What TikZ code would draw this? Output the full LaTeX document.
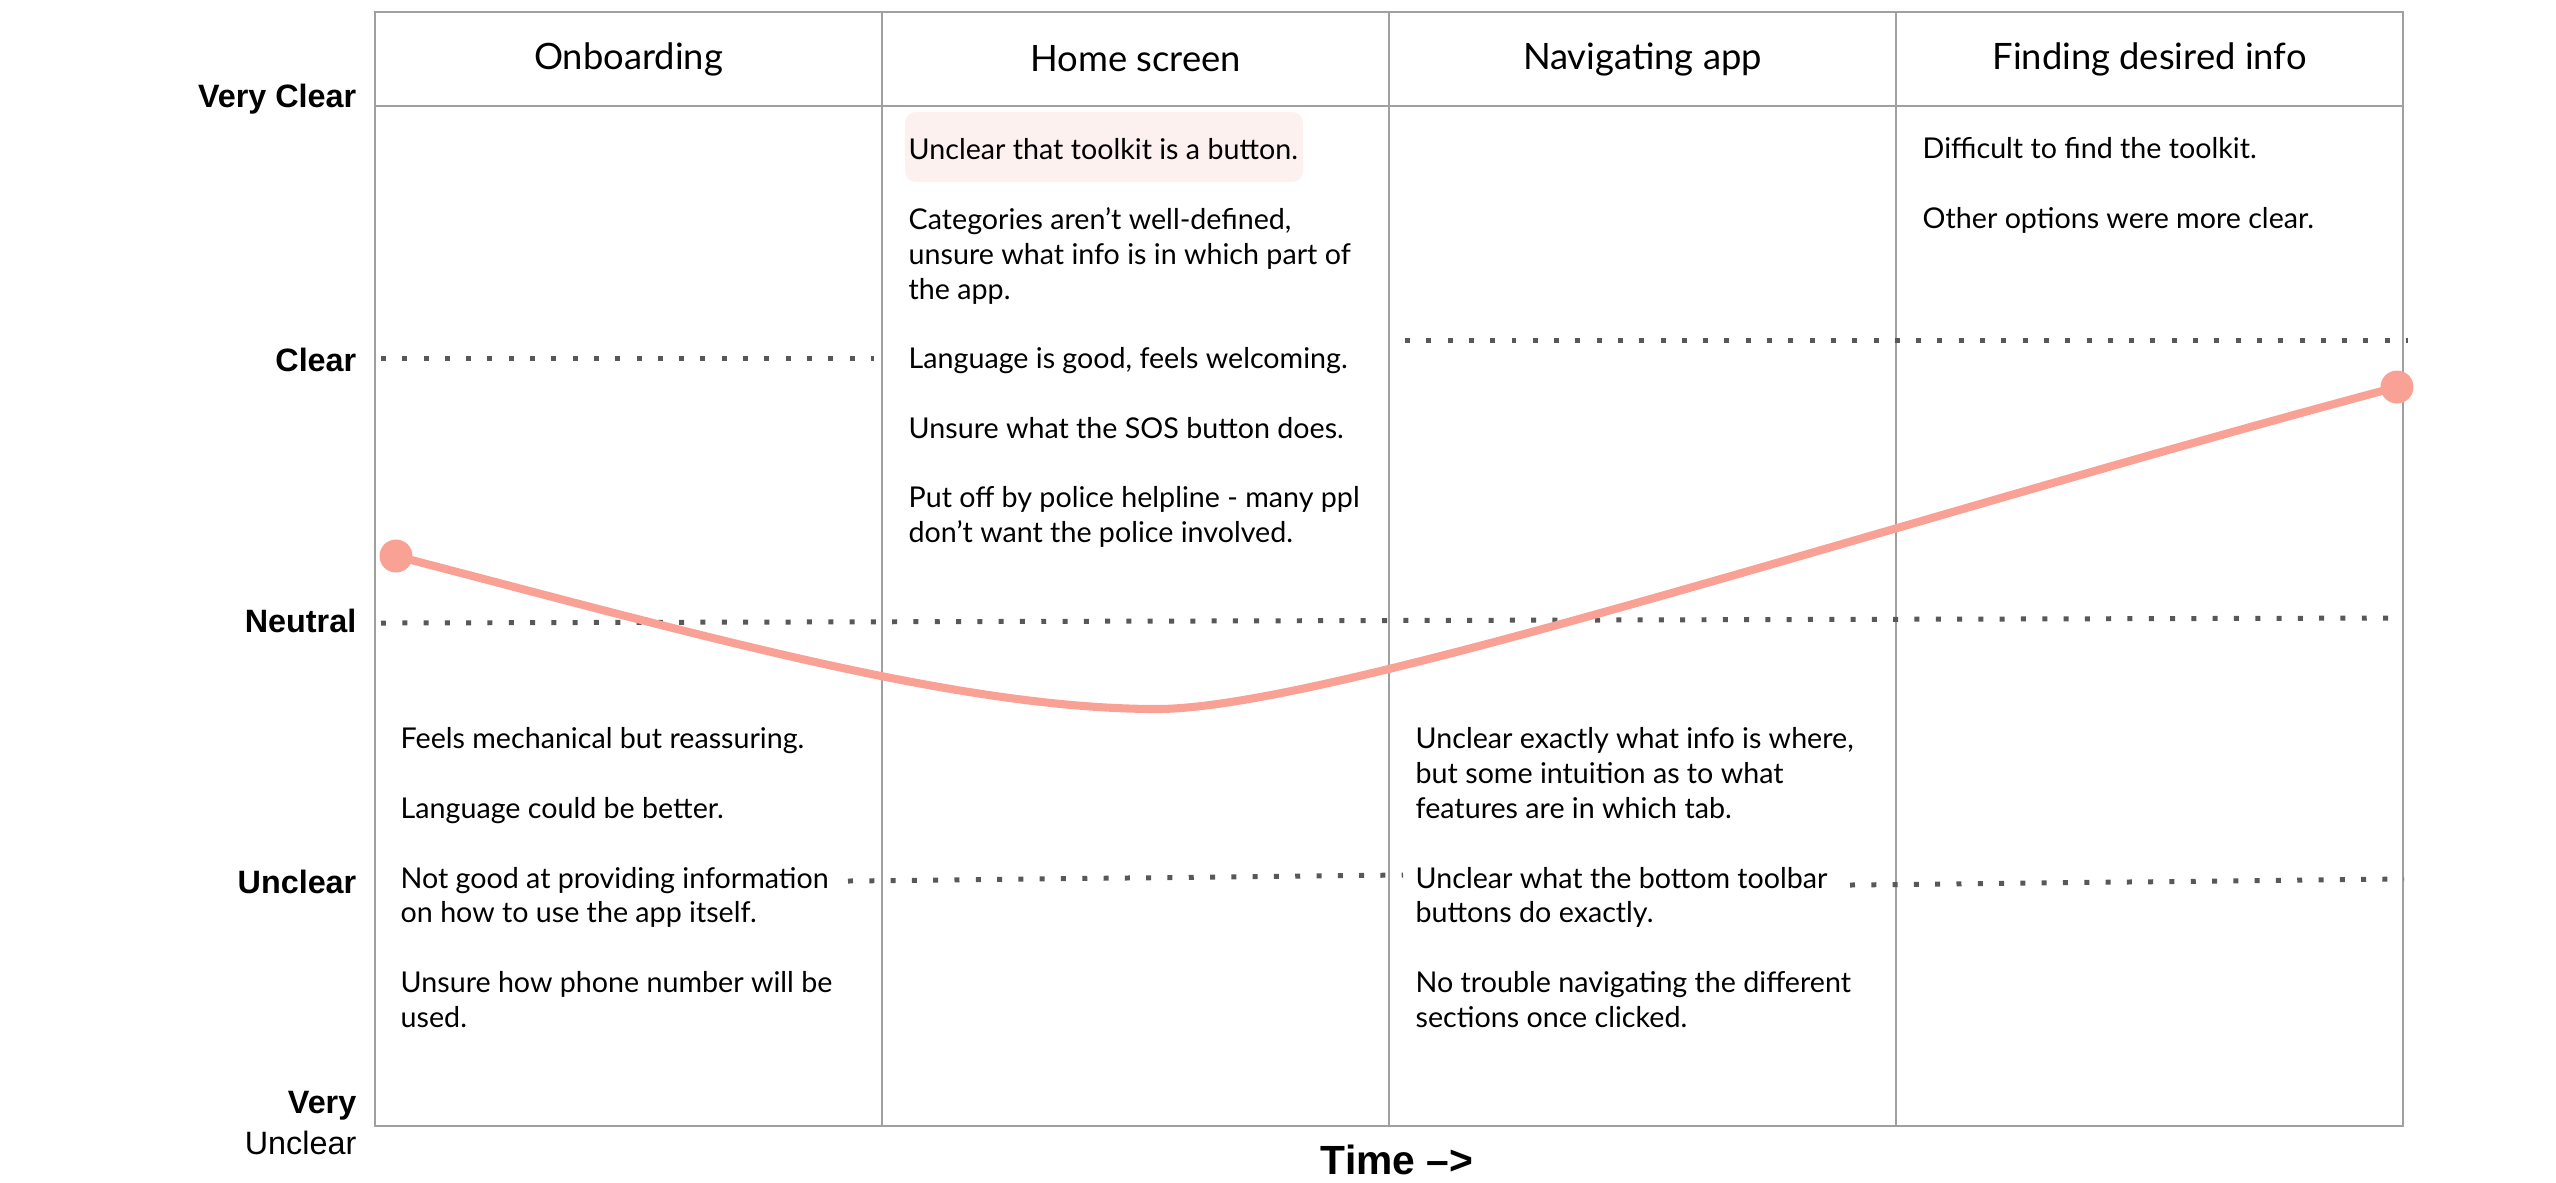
\documentclass[tikz,border=0pt]{standalone}
\usepackage{fontspec}
\setmainfont{Lato}
\newfontfamily\axisfont{Liberation Sans}
\definecolor{framegray}{RGB}{160,160,160}
\definecolor{dotgray}{RGB}{88,88,88}
\definecolor{curvepink}{RGB}{249,161,148}
\definecolor{hilite}{RGB}{253,241,239}
\newcommand{\psep}{\\[9.9pt]}
\begin{document}
\begin{tikzpicture}[
    frame/.style={draw=framegray, line width=0.8pt},
    level/.style={dotgray, line width=1.42pt, dash pattern=on 1.42pt off 4.64pt},
    note/.style={anchor=north west, align=left, inner sep=0pt, font=\fontsize{8.15}{9.9}\selectfont},
    phase/.style={font=\fontsize{10.35}{12}\selectfont},
    axis/.style={anchor=east, inner sep=0pt, font=\axisfont\fontsize{9.2}{10}\selectfont},
    marker/.style={circle, fill=curvepink, inner sep=0pt, minimum size=0.33cm}
]
    \useasboundingbox (0,0) rectangle (25.56,-11.82);
    \draw[frame] (3.75,-0.12) rectangle (24.03,-11.26);
    \draw[frame] (3.75,-1.06) -- (24.03,-1.06);
    \foreach \x in {8.82,13.89,18.96}
        \draw[frame] (\x,-0.12) -- (\x,-11.26);
    \node[phase] (onboard) at (6.285,-0.59) {Onboarding};
    \node[phase] (home) at (11.355,-0.59) {Home screen};
    \node[phase] (navig) at (16.425,-0.59) {Navigating app};
    \node[phase] (finding) at (21.495,-0.59) {Finding desired info};
    \node[axis] (vclear) at (3.57,-0.99) {\bfseries Very Clear};
    \node[axis] (clear) at (3.57,-3.60) {\bfseries Clear};
    \node[axis] (neutral) at (3.57,-6.21) {\bfseries Neutral};
    \node[axis] (unclear) at (3.57,-8.82) {\bfseries Unclear};
    \node[axis] (very) at (3.57,-11.06) {\bfseries Very};
    \node[axis] (vunclear) at (3.57,-11.43) {Unclear};
    \node[axis, anchor=center, font=\axisfont\bfseries\fontsize{11.6}{13}\selectfont] (time) at (13.97,-11.60) {Time –>};
    \draw[level] (3.81,-3.58) -- (8.74,-3.58);
    \draw[level] (14.05,-3.40) -- (24.08,-3.40);
    \draw[level] (3.81,-6.23) -- (24.03,-6.18);
    \draw[level] (8.48,-8.81) -- (14.03,-8.75);
    \draw[level] (18.50,-8.85) -- (24.04,-8.79);
    \fill[hilite, rounded corners=3pt] (9.05,-1.12) rectangle (13.03,-1.82);
    \node[note] (onbnotes) at (4.00,-7.27) {Feels mechanical but reassuring.\psep
        Language could be better.\psep
        Not good at providing information\\on how to use the app itself.\psep
        Unsure how phone number will be\\used.};
    \node[note] (homenotes) at (9.08,-1.38) {Unclear that toolkit is a button.\psep
        Categories aren’t well-defined,\\unsure what info is in which part of\\the app.\psep
        Language is good, feels welcoming.\psep
        Unsure what the SOS button does.\psep
        Put off by police helpline - many ppl\\don’t want the police involved.};
    \node[note] (navnotes) at (14.15,-7.27) {Unclear exactly what info is where,\\but some intuition as to what\\features are in which tab.\psep
        Unclear what the bottom toolbar\\buttons do exactly.\psep
        No trouble navigating the different\\sections once clicked.};
    \node[note] (findnotes) at (19.22,-1.37) {Difficult to find the toolkit.\psep
        Other options were more clear.};
    \coordinate (c0) at (3.96,-5.56);
    \coordinate (cmin) at (11.57,-7.09);
    \coordinate (c1) at (23.97,-3.87);
    \draw[curvepink, line width=2.3pt] (c0) .. controls (6.96,-6.34) and (9.57,-7.09) .. (cmin)
        .. controls (13.3,-7.09) and (18.97,-5.2) .. (c1);
    \node[marker] (start) at (c0) {};
    \node[marker] (end) at (c1) {};
\end{tikzpicture}
\end{document}
